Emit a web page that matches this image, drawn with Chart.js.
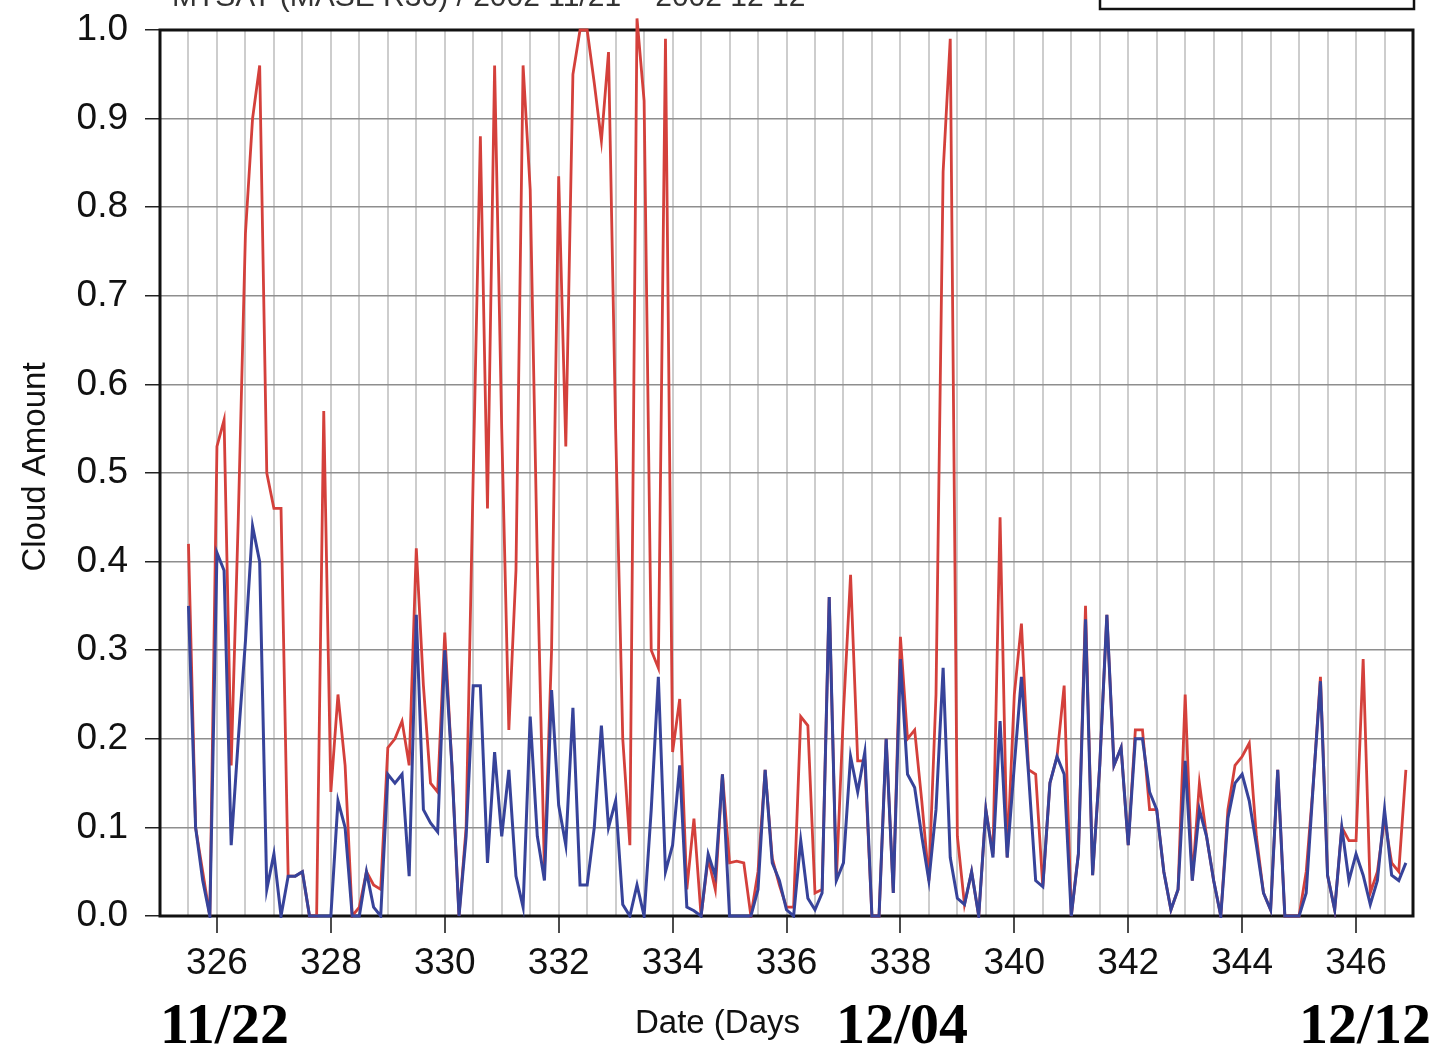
<!DOCTYPE html>
<html>
<head>
<meta charset="utf-8">
<script src="https://cdn.jsdelivr.net/npm/chart.js@4.4.1/dist/chart.umd.min.js"></script>
<style>
  html, body { margin: 0; padding: 0; background: #fff; }
  #wrap { width: 1435px; height: 1047px; }
</style>
</head>
<body>
<div id="wrap"><canvas id="myChart" width="1435" height="1047"></canvas></div>
<script>
// time axis: 3-hourly samples starting at day 325.5
var startDay = 325.5;
var stepDays = 0.125;

// red series (one row per day)
var redValues = [
  0.42, 0.10, 0.05, 0.00,
  0.53, 0.56, 0.17, 0.45, 0.77, 0.90, 0.96, 0.50,
  0.46, 0.46, 0.045, 0.045, 0.05, 0.00, 0.00, 0.57,
  0.14, 0.25, 0.17, 0.00, 0.01, 0.05, 0.035, 0.03,
  0.19, 0.20, 0.22, 0.17, 0.415, 0.26, 0.15, 0.14,
  0.32, 0.17, 0.00, 0.10, 0.50, 0.88, 0.46, 0.96,
  0.55, 0.21, 0.39, 0.96, 0.82, 0.40, 0.05, 0.30,
  0.835, 0.53, 0.95, 1.00, 1.00, 0.94, 0.875, 0.975,
  0.55, 0.20, 0.08, 1.013, 0.92, 0.30, 0.28, 0.99,
  0.185, 0.245, 0.03, 0.11, 0.00, 0.065, 0.03, 0.16,
  0.06, 0.062, 0.06, 0.00, 0.05, 0.165, 0.065, 0.035,
  0.01, 0.01, 0.225, 0.215, 0.026, 0.03, 0.36, 0.04,
  0.23, 0.385, 0.175, 0.175, 0.00, 0.00, 0.20, 0.026,
  0.315, 0.20, 0.21, 0.13, 0.04, 0.25, 0.84, 0.99,
  0.09, 0.013, 0.05, 0.00, 0.12, 0.07, 0.45, 0.066,
  0.25, 0.33, 0.165, 0.16, 0.033, 0.15, 0.18, 0.26,
  0.00, 0.07, 0.35, 0.046, 0.17, 0.34, 0.17, 0.19,
  0.08, 0.21, 0.21, 0.12, 0.12, 0.05, 0.007, 0.03,
  0.25, 0.04, 0.15, 0.09, 0.04, 0.00, 0.12, 0.17,
  0.18, 0.195, 0.09, 0.026, 0.007, 0.165, 0.00, 0.00,
  0.00, 0.05, 0.15, 0.27, 0.046, 0.007, 0.10, 0.085,
  0.085, 0.29, 0.026, 0.05, 0.11, 0.06, 0.05, 0.165
];

// blue series (one row per day)
var blueValues = [
  0.35, 0.10, 0.04, 0.00,
  0.41, 0.39, 0.08, 0.20, 0.31, 0.44, 0.40, 0.03,
  0.07, 0.00, 0.045, 0.045, 0.05, 0.00, 0.00, 0.00,
  0.00, 0.13, 0.10, 0.00, 0.00, 0.05, 0.01, 0.00,
  0.16, 0.15, 0.16, 0.045, 0.34, 0.12, 0.105, 0.095,
  0.30, 0.17, 0.00, 0.09, 0.26, 0.26, 0.06, 0.185,
  0.09, 0.165, 0.045, 0.01, 0.225, 0.09, 0.04, 0.255,
  0.125, 0.08, 0.235, 0.035, 0.035, 0.10, 0.215, 0.10,
  0.13, 0.013, 0.00, 0.035, 0.00, 0.12, 0.27, 0.05,
  0.08, 0.17, 0.01, 0.006, 0.00, 0.07, 0.045, 0.16,
  0.00, 0.00, 0.00, 0.00, 0.03, 0.165, 0.06, 0.04,
  0.007, 0.00, 0.085, 0.02, 0.007, 0.026, 0.36, 0.04,
  0.06, 0.18, 0.14, 0.185, 0.00, 0.00, 0.20, 0.026,
  0.29, 0.16, 0.145, 0.09, 0.04, 0.12, 0.28, 0.066,
  0.02, 0.013, 0.05, 0.00, 0.12, 0.066, 0.22, 0.066,
  0.17, 0.27, 0.16, 0.04, 0.033, 0.15, 0.18, 0.16,
  0.00, 0.07, 0.335, 0.046, 0.17, 0.34, 0.17, 0.19,
  0.08, 0.20, 0.20, 0.14, 0.12, 0.05, 0.007, 0.03,
  0.175, 0.04, 0.12, 0.09, 0.04, 0.00, 0.11, 0.15,
  0.16, 0.13, 0.08, 0.026, 0.007, 0.165, 0.00, 0.00,
  0.00, 0.026, 0.15, 0.265, 0.046, 0.007, 0.10, 0.04,
  0.07, 0.046, 0.013, 0.04, 0.12, 0.046, 0.04, 0.06
];

// axis tick labels
var xTickLabels = [326, 328, 330, 332, 334, 336, 338, 340, 342, 344, 346];
var dateLabels = ['11/22', '12/04', '12/12'];
var titleText = 'MTSAT (MASE R30) / 2002 11/21 ~ 2002 12 12';

function toPoints(values) {
    var pts = [];
    for (var i = 0; i < values.length; i++) {
        pts.push({ x: startDay + i * stepDays, y: values[i] });
    }
    return pts;
}

function isLabelTick(v) {
    return xTickLabels.indexOf(v) !== -1;
}

var sans = '"Liberation Sans", Arial, Helvetica, sans-serif';
var serif = '"Liberation Serif", "Times New Roman", serif';

// frame, titles and date marks drawn straight on the canvas
var decorations = {
    id: 'decorations',
    beforeDatasetsDraw: function (chart) {
        var a = chart.chartArea;
        var ctx = chart.ctx;
        ctx.save();
        ctx.strokeStyle = '#111';
        ctx.lineWidth = 3;
        ctx.strokeRect(a.left, a.top, a.right - a.left, a.bottom - a.top);
        ctx.restore();
    },
    afterDraw: function (chart) {
        var ctx = chart.ctx;
        ctx.save();
        // cut-off title and legend box at the top
        ctx.fillStyle = '#333';
        ctx.font = '30px ' + sans;
        ctx.textBaseline = 'alphabetic';
        ctx.fillText(titleText, 172, 6);
        ctx.strokeStyle = '#111';
        ctx.lineWidth = 2.5;
        ctx.strokeRect(1100, -20, 314, 29);

        // y axis title
        ctx.fillStyle = '#111';
        ctx.font = '33px ' + sans;
        ctx.translate(36, 467);
        ctx.rotate(-Math.PI / 2);
        ctx.textAlign = 'center';
        ctx.textBaseline = 'middle';
        ctx.fillText('Cloud Amount', 0, 0);
        ctx.restore();

        ctx.save();
        ctx.fillStyle = '#111';
        ctx.textBaseline = 'alphabetic';
        ctx.font = '33px ' + sans;
        ctx.fillText('Date (Days', 635, 1033);
        ctx.fillStyle = '#000';
        ctx.font = 'bold 58px ' + serif;
        ctx.fillText(dateLabels[0], 160, 1043);
        ctx.fillText(dateLabels[1], 836, 1043);
        ctx.fillText(dateLabels[2], 1299, 1043);
        ctx.restore();
    }
};

var ctx = document.getElementById('myChart').getContext('2d');
var myChart = new Chart(ctx, {
    type: 'line',
    data: {
        datasets: [{
            label: 'blue',
            data: toPoints(blueValues),
            borderColor: '#37439a',
            borderWidth: 3,
            pointRadius: 0,
            tension: 0,
            clip: { left: 2, top: 2, right: 2, bottom: 2 }
        }, {
            label: 'red',
            data: toPoints(redValues),
            borderColor: '#d4403b',
            borderWidth: 2.8,
            pointRadius: 0,
            tension: 0,
            clip: { left: 2, top: 16, right: 2, bottom: 2 }
        }]
    },
    options: {
        responsive: false,
        animation: false,
        devicePixelRatio: 1,
        layout: { padding: { left: 0, right: 22, top: 30, bottom: 0 } },
        plugins: {
            legend: { display: false },
            tooltip: { enabled: false }
        },
        scales: {
            x: {
                type: 'linear',
                min: 325,
                max: 347,
                afterFit: function (scale) {
                    scale.height = 131;
                    scale.paddingLeft = 0;
                    scale.paddingRight = 0;
                },
                afterBuildTicks: function (scale) {
                    var t = [];
                    for (var v = 325; v <= 347; v += 0.5) t.push({ value: v });
                    scale.ticks = t;
                },
                border: { display: false },
                grid: {
                    color: function (c) {
                        if (c.tick && (c.tick.value === 325 || c.tick.value === 347)) return 'rgba(0,0,0,0)';
                        return '#cdcdcd';
                    },
                    lineWidth: 2,
                    tickLength: 17,
                    tickColor: function (c) {
                        return c.tick && isLabelTick(c.tick.value) ? '#111' : 'rgba(0,0,0,0)';
                    },
                    tickWidth: 1.5
                },
                ticks: {
                    autoSkip: false,
                    maxRotation: 0,
                    padding: 9,
                    color: '#111',
                    font: { family: sans, size: 37 },
                    callback: function (v) { return isLabelTick(v) ? String(v) : ''; }
                }
            },
            y: {
                min: 0,
                max: 1,
                afterFit: function (scale) {
                    scale.width = 160;
                    scale.paddingTop = 0;
                    scale.paddingBottom = 0;
                },
                border: { display: false },
                grid: {
                    color: function (c) {
                        if (c.tick && (c.tick.value === 0 || c.tick.value === 1)) return 'rgba(0,0,0,0)';
                        return '#8e8e8e';
                    },
                    lineWidth: 1.5,
                    tickLength: 15,
                    tickColor: '#222',
                    tickWidth: 1.5
                },
                ticks: {
                    stepSize: 0.1,
                    padding: 17,
                    color: '#111',
                    font: { family: sans, size: 37 },
                    callback: function (v) { return Number(v).toFixed(1); }
                }
            }
        }
    },
    plugins: [decorations]
});
</script>
</body>
</html>
